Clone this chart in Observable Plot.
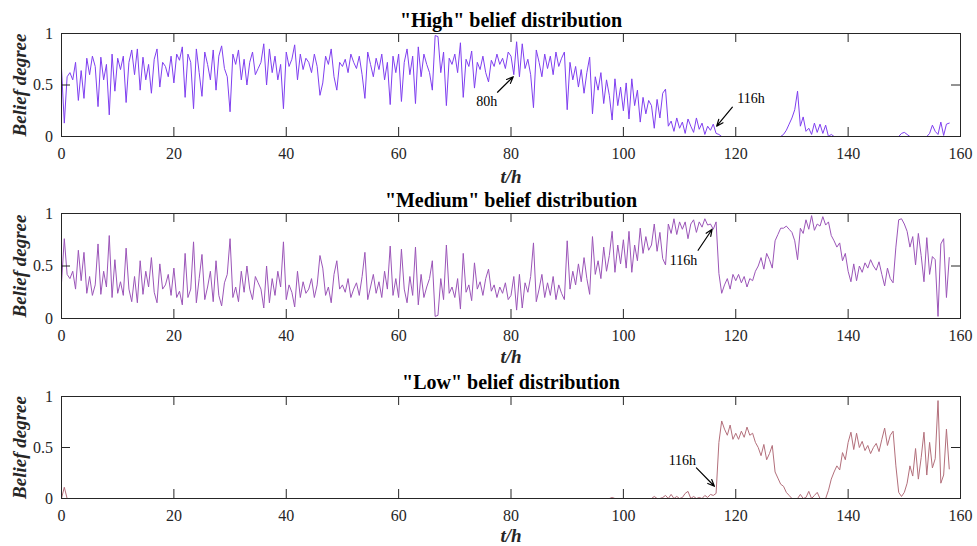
<!DOCTYPE html>
<html>
<head>
<meta charset="utf-8">
<script src="https://cdn.jsdelivr.net/npm/d3@7"></script>
<script src="https://cdn.jsdelivr.net/npm/@observablehq/plot@0.6"></script>
<style>
  body { margin: 0; background: #fff; }
  #chart { position: relative; width: 977px; height: 546px; overflow: hidden; }
  #chart svg { position: absolute; left: 0; overflow: visible; }
</style>
</head>
<body>
<div id="chart"></div>
<script>
// Belief degree of each grade, sampled every half hour from t = 0 h to t = 158 h.
const highBelief = [
  0.66,0.13,0.58,0.62,0.55,0.72,0.35,0.64,0.37,0.76,0.60,0.78,0.68,0.29,0.77,0.55,0.70,0.21,0.80,0.44,
  0.76,0.65,0.78,0.33,0.72,0.84,0.60,0.85,0.45,0.77,0.55,0.70,0.42,0.75,0.85,0.48,0.72,0.68,0.58,0.78,
  0.52,0.80,0.74,0.87,0.38,0.80,0.72,0.27,0.85,0.62,0.39,0.82,0.70,0.55,0.84,0.45,0.78,0.88,0.66,0.58,
  0.24,0.80,0.70,0.84,0.55,0.75,0.50,0.72,0.82,0.60,0.66,0.72,0.90,0.50,0.85,0.62,0.78,0.55,0.70,0.27,
  0.82,0.68,0.75,0.89,0.55,0.80,0.65,0.76,0.72,0.62,0.80,0.68,0.40,0.52,0.78,0.70,0.85,0.58,0.45,0.72,
  0.68,0.75,0.62,0.80,0.72,0.66,0.78,0.60,0.37,0.82,0.70,0.58,0.76,0.65,0.80,0.55,0.72,0.31,0.78,0.62,
  0.80,0.34,0.72,0.85,0.60,0.78,0.32,0.87,0.58,0.80,0.70,0.62,0.45,0.98,0.97,0.62,0.82,0.30,0.76,0.70,
  0.80,0.62,0.91,0.38,0.75,0.68,0.83,0.47,0.72,0.65,0.78,0.62,0.53,0.74,0.68,0.80,0.70,0.76,0.66,0.82,
  0.78,0.60,0.92,0.58,0.90,0.66,0.75,0.60,0.28,0.84,0.72,0.58,0.80,0.66,0.78,0.60,0.82,0.68,0.76,0.82,
  0.26,0.72,0.55,0.68,0.48,0.65,0.42,0.62,0.77,0.22,0.58,0.45,0.62,0.32,0.55,0.40,0.16,0.56,0.30,0.48,
  0.25,0.52,0.17,0.56,0.30,0.45,0.14,0.38,0.22,0.35,0.30,0.08,0.36,0.18,0.42,0.46,0.10,0.15,0.05,0.18,
  0.08,0.14,0.03,0.17,0.10,0.04,0.18,0.07,0.13,0.02,0.10,0.06,0.12,0.03,0.02,0,0,0,0,0,
  0,0,0,0,0,0,0,0,0,0,0,0,0,0,0,0,0,0.02,0.06,0.12,
  0.18,0.26,0.44,0.10,0.19,0.05,0.08,0.02,0.13,0.04,0.12,0.03,0.11,0,0.02,0,0,0,0,0,
  0,0,0,0,0,0,0,0,0,0,0,0,0,0,0,0,0,0,0,0.03,
  0.04,0.02,0,0,0,0,0,0,0,0.03,0.11,0.05,0.02,0.14,0.01,0.12,0.13
];
const mediumBelief = [
  0.34,0.76,0.42,0.38,0.45,0.28,0.65,0.36,0.63,0.24,0.40,0.22,0.32,0.71,0.23,0.45,0.30,0.79,0.20,0.56,
  0.24,0.35,0.22,0.67,0.28,0.16,0.40,0.15,0.55,0.23,0.45,0.30,0.58,0.25,0.15,0.52,0.28,0.32,0.42,0.22,
  0.48,0.20,0.26,0.13,0.62,0.20,0.28,0.73,0.15,0.38,0.61,0.18,0.30,0.45,0.16,0.55,0.22,0.12,0.34,0.42,
  0.76,0.20,0.30,0.16,0.45,0.25,0.50,0.28,0.18,0.40,0.34,0.28,0.10,0.50,0.15,0.38,0.22,0.45,0.30,0.73,
  0.18,0.32,0.25,0.11,0.45,0.20,0.35,0.24,0.28,0.38,0.20,0.32,0.60,0.48,0.22,0.30,0.15,0.42,0.55,0.28,
  0.32,0.25,0.38,0.20,0.28,0.34,0.22,0.40,0.63,0.18,0.30,0.42,0.24,0.35,0.20,0.45,0.28,0.69,0.22,0.38,
  0.20,0.66,0.28,0.15,0.40,0.22,0.68,0.13,0.42,0.20,0.30,0.38,0.55,0.02,0.03,0.38,0.18,0.70,0.24,0.30,
  0.20,0.38,0.09,0.62,0.25,0.32,0.17,0.53,0.28,0.35,0.22,0.38,0.47,0.26,0.32,0.20,0.30,0.24,0.34,0.18,
  0.22,0.40,0.08,0.42,0.10,0.34,0.25,0.40,0.72,0.16,0.28,0.42,0.20,0.34,0.22,0.40,0.18,0.32,0.24,0.18,
  0.74,0.28,0.45,0.32,0.52,0.35,0.58,0.38,0.23,0.78,0.42,0.55,0.38,0.68,0.45,0.60,0.83,0.44,0.70,0.52,
  0.75,0.48,0.83,0.44,0.70,0.55,0.86,0.62,0.78,0.65,0.70,0.90,0.64,0.82,0.57,0.51,0.90,0.81,0.95,0.80,
  0.92,0.85,0.92,0.76,0.90,0.94,0.82,0.92,0.87,0.95,0.89,0.90,0.85,0.92,0.43,0.24,0.32,0.38,0.28,0.42,
  0.36,0.42,0.34,0.40,0.30,0.38,0.36,0.45,0.50,0.58,0.47,0.62,0.56,0.48,0.74,0.80,0.86,0.86,0.88,0.85,
  0.82,0.74,0.56,0.86,0.81,0.94,0.85,0.98,0.84,0.90,0.88,0.97,0.89,0.92,0.79,0.74,0.68,0.72,0.55,0.62,
  0.45,0.35,0.52,0.36,0.50,0.44,0.53,0.48,0.56,0.50,0.46,0.54,0.42,0.31,0.48,0.38,0.34,0.68,0.94,0.95,
  0.90,0.83,0.68,0.78,0.51,0.81,0.60,0.35,0.77,0.42,0.59,0.56,0.02,0.71,0.76,0.20,0.58
];
const lowBelief = [
  0,0.11,0,0,0,0,0,0,0,0,0,0,0,0,0,0,0,0,0,0,
  0,0,0,0,0,0,0,0,0,0,0,0,0,0,0,0,0,0,0,0,
  0,0,0,0,0,0,0,0,0,0,0,0,0,0,0,0,0,0,0,0,
  0,0,0,0,0,0,0,0,0,0,0,0,0,0,0,0,0,0,0,0,
  0,0,0,0,0,0,0,0,0,0,0,0,0,0,0,0,0,0,0,0,
  0,0,0,0,0,0,0,0,0,0,0,0,0,0,0,0,0,0,0,0,
  0,0,0,0,0,0,0,0,0,0,0,0,0,0,0,0,0,0,0,0,
  0,0,0,0,0,0,0,0,0,0,0,0,0,0,0,0,0,0,0,0,
  0,0,0,0,0,0,0,0,0,0,0,0,0,0,0,0,0,0,0,0,
  0,0,0,0,0,0,0,0,0,0,0,0,0,0,0,0,0.01,0,0,0,
  0,0,0,0,0,0,0,0,0,0,0,0.02,0,0,0.01,0.03,0,0.04,0,0.02,
  0,0.01,0.05,0.07,0,0.02,0,0.01,0,0.03,0.01,0.04,0.03,0.05,0.55,0.76,0.68,0.62,0.72,0.58,
  0.64,0.58,0.66,0.60,0.70,0.62,0.64,0.55,0.50,0.42,0.53,0.38,0.44,0.52,0.26,0.20,0.14,0.12,0.06,0.03,
  0,0,0,0.04,0,0.01,0.07,0,0.03,0.06,0,0,0,0.08,0.19,0.26,0.32,0.28,0.45,0.38,
  0.55,0.65,0.48,0.64,0.50,0.56,0.47,0.52,0.44,0.50,0.54,0.46,0.58,0.69,0.52,0.62,0.66,0.32,0.06,0.02,
  0.06,0.15,0.32,0.22,0.49,0.19,0.40,0.65,0.23,0.55,0.30,0.39,0.96,0.15,0.23,0.68,0.29
];
const timeStep = 0.5; // hours between samples

const xTicks = [0, 20, 40, 60, 80, 100, 120, 140, 160];
const yTicks = [0, 0.5, 1];
const panelTitles = ['"High" belief distribution', '"Medium" belief distribution', '"Low" belief distribution'];
const xLabel = "t/h";
const yLabel = "Belief degree";

// Callouts: label position and arrow (tail -> head) in data units
const noteLabels = ["80h", "116h", "116h", "116h"];
const notePanel  = [0, 0, 1, 2];
const noteText   = [[75.7, 0.34], [122.7, 0.37], [110.7, 0.55], [110.5, 0.37]];
const noteTail   = [[77.6, 0.43], [119.4, 0.285], [113.3, 0.65], [113.0, 0.30]];
const noteHead   = [[80.4, 0.58], [116.6, 0.10], [115.8, 0.85], [116.2, 0.12]];

const ink = "#262626";
const serif = "'Liberation Serif', 'Times New Roman', Times, serif";
const panels = [
  {series: highBelief,   color: "#7f3ff0", top: 0,   marginTop: 33, marginBottom: 46, titleDy: -13,   labelDy: 40},
  {series: mediumBelief, color: "#9b55b8", top: 182, marginTop: 31, marginBottom: 46, titleDy: -13,   labelDy: 38},
  {series: lowBelief,    color: "#b36f7b", top: 364, marginTop: 32, marginBottom: 48, titleDy: -13.5, labelDy: 37}
];

const W = 977, H = 182, ML = 61, MR = 17;
const chart = document.getElementById("chart");

panels.forEach((p, k) => {
  const rows = p.series.map((v, i) => ({t: i * timeStep, v}));
  const plotH = H - p.marginTop - p.marginBottom;
  const plotW = W - ML - MR;
  const notes = noteLabels
    .map((label, i) => ({label, panel: notePanel[i],
      tx: noteText[i][0], ty: noteText[i][1],
      x1: noteTail[i][0], y1: noteTail[i][1],
      x2: noteHead[i][0], y2: noteHead[i][1]}))
    .filter(d => d.panel === k);

  const svg = Plot.plot({
    width: W, height: H,
    marginLeft: ML, marginRight: MR, marginTop: p.marginTop, marginBottom: p.marginBottom,
    x: {domain: [0, 160]},
    y: {domain: [0, 1]},
    style: {fontFamily: serif, fontSize: "16px", color: ink, background: "transparent"},
    marks: [
      Plot.line(rows, {x: "t", y: "v", stroke: p.color, strokeWidth: 1}),
      Plot.frame({stroke: ink}),
      // inward ticks on all four sides
      Plot.tickX(xTicks, {x: d => d, insetTop: plotH - 9, stroke: ink}),
      Plot.tickX(xTicks, {x: d => d, insetBottom: plotH - 9, stroke: ink}),
      Plot.tickY(yTicks, {y: d => d, insetRight: plotW - 9, stroke: ink}),
      Plot.tickY(yTicks, {y: d => d, insetLeft: plotW - 9, stroke: ink}),
      Plot.axisX({ticks: xTicks, tickSize: 0, tickPadding: 11, label: null, fill: ink,
                  fontFamily: serif, fontSize: 16, fontVariant: "normal"}),
      Plot.axisY({ticks: yTicks, tickSize: 0, tickPadding: 8.5, label: null, fill: ink,
                  fontFamily: serif, fontSize: 16, fontVariant: "normal", tickFormat: d => String(d)}),
      Plot.text([panelTitles[k]], {text: d => d, frameAnchor: "top", dy: p.titleDy,
                 lineAnchor: "middle", textAnchor: "middle",
                 fontFamily: serif, fontWeight: "bold", fontSize: 20, fill: "#000"}),
      Plot.text([xLabel], {text: d => d, frameAnchor: "bottom", dy: p.labelDy,
                 lineAnchor: "middle", textAnchor: "middle",
                 fontFamily: serif, fontWeight: "bold", fontStyle: "italic", fontSize: 19, fill: ink}),
      Plot.text([yLabel], {text: d => d, frameAnchor: "left", dx: -42, rotate: -90,
                 lineAnchor: "middle", textAnchor: "middle",
                 fontFamily: serif, fontWeight: "bold", fontStyle: "italic", fontSize: 19, fill: ink}),
      Plot.arrow(notes, {x1: "x1", y1: "y1", x2: "x2", y2: "y2", stroke: "#000", strokeWidth: 1.2, headLength: 9, headAngle: 45}),
      Plot.text(notes, {x: "tx", y: "ty", text: "label", fontFamily: serif, fontSize: 14, fill: "#000"})
    ]
  });
  svg.style.top = p.top + "px";
  chart.appendChild(svg);
});
</script>
</body>
</html>
